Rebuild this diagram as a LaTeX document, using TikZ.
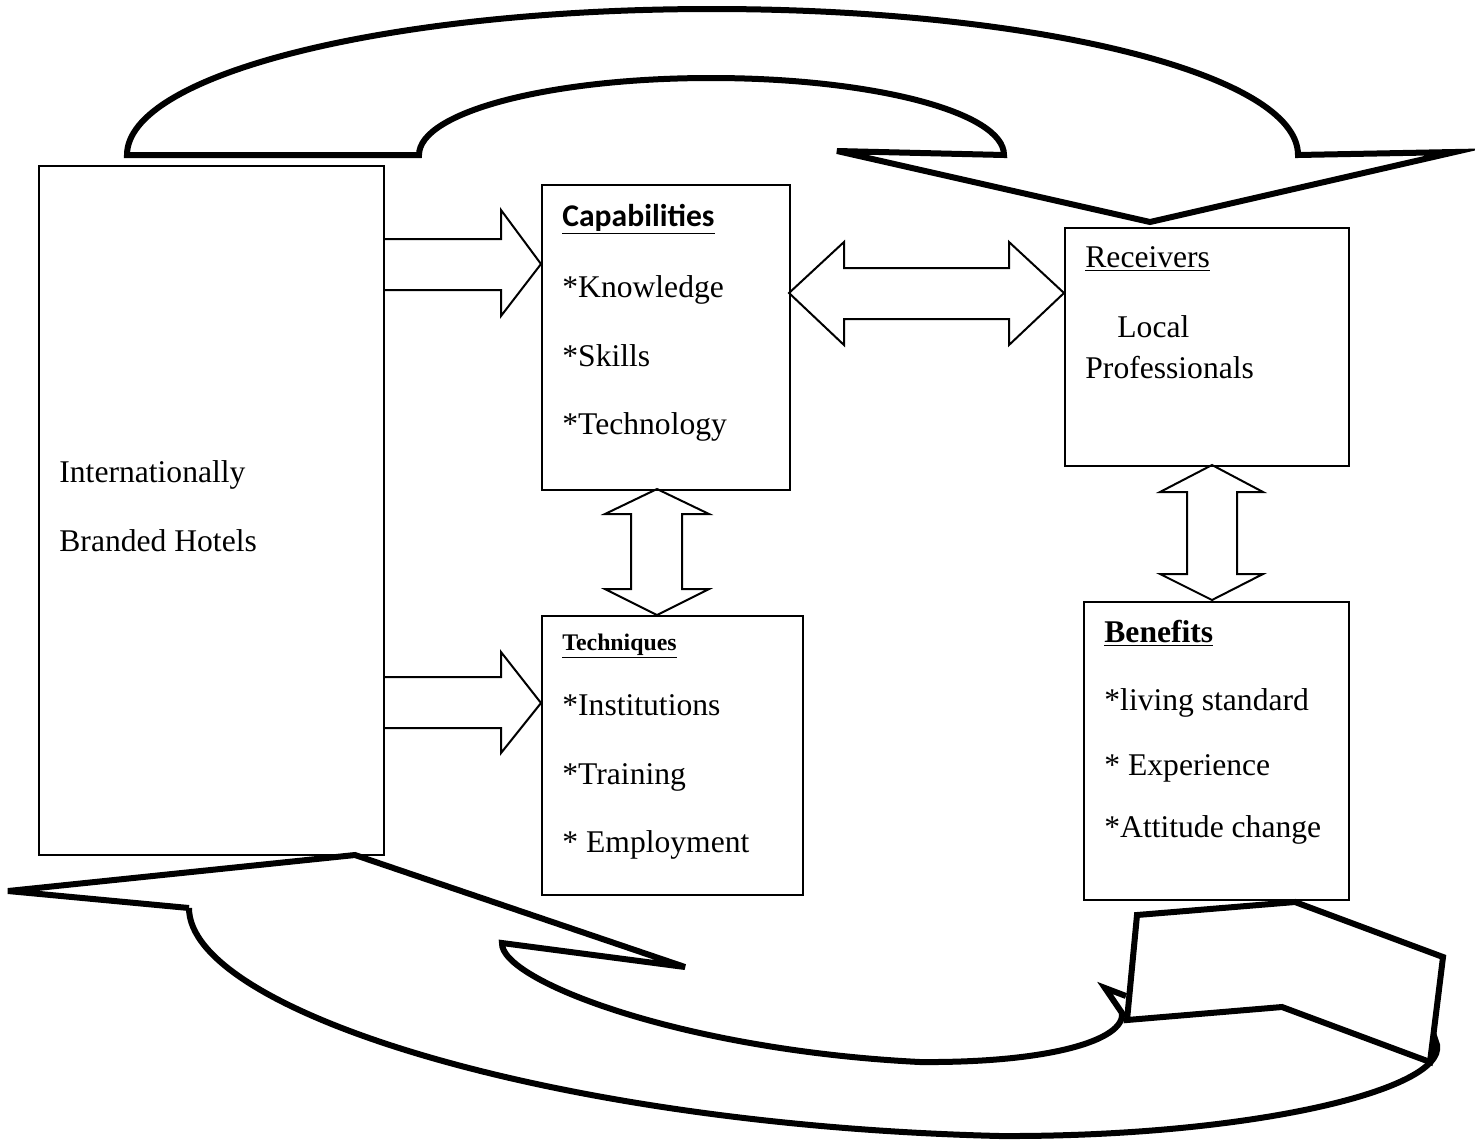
\documentclass[tikz,border=0pt]{standalone}
\usepackage{fontspec}
\setmainfont{Liberation Serif}
\newfontfamily\calfont{Carlito}
\begin{document}
\begin{tikzpicture}[x=0.5pt,y=-0.5pt,
  box/.style={draw,line width=1pt,inner sep=0pt,anchor=north west},
  txt/.style={anchor=base west,inner sep=0pt,font=\fontsize{15.8}{18}\selectfont},
  blk/.style={draw,line width=1pt,line join=miter},
  thick curve/.style={draw,line width=3pt,line join=miter,line cap=butt}]
\useasboundingbox (0,0) rectangle (1475,1141);

% boxes
\node[box,minimum width=172.5pt,minimum height=344.5pt] (hotel) at (38,165) {};
\node[box,minimum width=124pt,minimum height=152.5pt] (cap) at (541,184) {};
\node[box,minimum width=130.5pt,minimum height=139.5pt] (tech) at (541,615) {};
\node[box,minimum width=142pt,minimum height=119pt] (recv) at (1064,227) {};
\node[box,minimum width=132.5pt,minimum height=149pt] (ben) at (1083,601) {};

% texts
\node[txt] (t1) at (59,482) {Internationally};
\node[txt] (t2) at (59,551) {Branded Hotels};

\node[txt,font=\fontsize{15.8}{18}\calfont\bfseries] (c0) at (562,226) {\underline{Capabilities}};
\node[txt] (c1) at (562,297) {*Knowledge};
\node[txt] (c2) at (562,366) {*Skills};
\node[txt] (c3) at (562,434) {*Technology};

\node[txt,font=\fontsize{11.9}{14}\selectfont\bfseries] (q0) at (562,650) {\underline{Techniques}};
\node[txt] (q1) at (562,715) {*Institutions};
\node[txt] (q2) at (562,784) {*Training};
\node[txt] (q3) at (562,852) {* Employment};

\node[txt] (r0) at (1085,267) {\underline{Receivers}};
\node[txt] (r1) at (1117,337) {Local};
\node[txt] (r2) at (1085,378) {Professionals};

\node[txt,font=\fontsize{15.8}{18}\selectfont\bfseries] (b0) at (1104,642) {\underline{Benefits}};
\node[txt] (b1) at (1104,710) {*living standard};
\node[txt] (b2) at (1104,775) {* Experience};
\node[txt] (b3) at (1104,837) {*Attitude change};

% block arrows
\draw[blk] (383,239) -- (501,239) -- (501,210) -- (541,264) -- (501,316) -- (501,290) -- (383,290);
\draw[blk] (383,677) -- (501,677) -- (501,652) -- (541,703) -- (501,753) -- (501,728) -- (383,728);
\draw[blk] (789,293) -- (844,242) -- (844,268) -- (1009,268) -- (1009,242) -- (1064,293)
  -- (1009,345) -- (1009,319) -- (844,319) -- (844,345) -- cycle;
\draw[blk] (657,489) -- (709,514) -- (682,514) -- (682,589) -- (709,589) -- (657,615)
  -- (605,589) -- (631,589) -- (631,514) -- (605,514) -- cycle;
\draw[blk] (1212,465) -- (1263,492) -- (1237,492) -- (1237,574) -- (1263,574) -- (1212,600)
  -- (1160,574) -- (1187,574) -- (1187,492) -- (1160,492) -- cycle;

% top curved arrow
\path[thick curve] (127,155) .. controls (127,74) and (389,9) .. (712,9)
  .. controls (1035,9) and (1298,74) .. (1298,155)
  -- (1455,152) -- (1150,222) -- (837,151) -- (1004,155)
  .. controls (1004,112) and (872,78) .. (711,78)
  .. controls (550,78) and (419,112) .. (419,155) -- cycle;

% bottom curved arrow
\path[thick curve] (189,908) -- (8,891) -- (355,855) -- (685,967) -- (502,943)
  .. controls (500,980) and (680,1050) .. (920,1062)
  .. controls (1050,1063) and (1125,1040) .. (1122,1013)
  -- (1105,988) -- (1126,996);
\path[thick curve] (189,908) .. controls (189,1010) and (550,1125) .. (1000,1136)
  .. controls (1250,1137) and (1445,1090) .. (1437,1045) -- (1432,1030);
\path[thick curve,fill=white] (1137,915) -- (1295,902) -- (1443,957) -- (1430,1062)
  -- (1282,1007) -- (1127,1020) -- cycle;
\end{tikzpicture}
\end{document}
